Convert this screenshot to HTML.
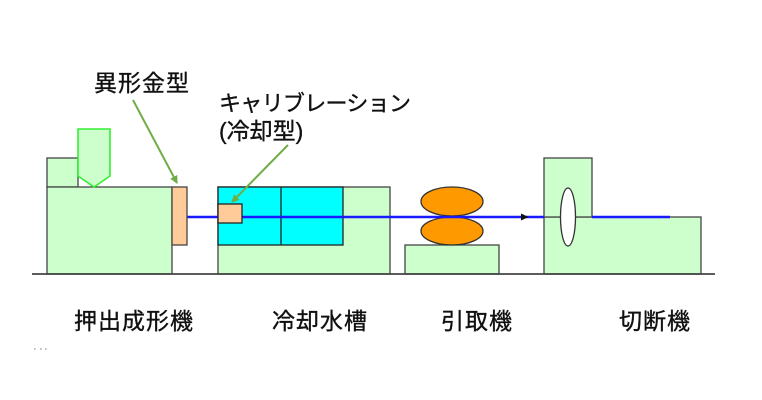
<!DOCTYPE html>
<html><head><meta charset="utf-8"><style>
html,body{margin:0;padding:0;background:#fff;}
svg{display:block;}
text{font-family:"Liberation Sans","Noto Sans CJK JP",sans-serif;fill:#111;stroke:#111;stroke-width:0.35;}
</style></head><body>
<svg width="762" height="400" viewBox="0 0 762 400" xmlns="http://www.w3.org/2000/svg">
<defs>
<marker id="ga" markerWidth="8" markerHeight="8" refX="7" refY="4" orient="auto" markerUnits="userSpaceOnUse">
<path d="M0,0 L8,4 L0,8 Z" fill="#70ad47"/>
</marker>
</defs>
<rect width="762" height="400" fill="#fff"/>
<!-- extruder -->
<rect x="47" y="158" width="31" height="29" fill="#ccffcc" stroke="#444" stroke-width="1.3"/>
<rect x="47" y="187" width="125" height="87" fill="#ccffcc" stroke="#444" stroke-width="1.3"/>
<polygon points="78,129 110,129 110,176 94,187 78,176" fill="#ccffcc" stroke="#33ee33" stroke-width="1.6"/>
<!-- cooling tank -->
<rect x="218" y="187" width="172" height="87" fill="#ccffcc" stroke="#444" stroke-width="1.3"/>
<rect x="218" y="187" width="125" height="58" fill="#00ffff" stroke="#222" stroke-width="1.3"/>
<line x1="281" y1="187" x2="281" y2="245" stroke="#222" stroke-width="1.3"/>
<!-- puller base -->
<rect x="405" y="245" width="94" height="29" fill="#ccffcc" stroke="#444" stroke-width="1.3"/>
<!-- cutter -->
<rect x="544" y="217" width="157" height="57" fill="#ccffcc" stroke="#444" stroke-width="1.3"/>
<rect x="544" y="158" width="48" height="59" fill="#ccffcc" stroke="#444" stroke-width="1.3"/>
<!-- rollers -->
<ellipse cx="452" cy="201.5" rx="31" ry="14.5" fill="#ff9900" stroke="#333" stroke-width="1.3"/>
<ellipse cx="452" cy="231" rx="31" ry="14" fill="#ff9900" stroke="#333" stroke-width="1.3"/>
<!-- blue profile line -->
<line x1="187" y1="217" x2="544" y2="217" stroke="#1a1aff" stroke-width="2.4"/>
<line x1="592" y1="217" x2="670" y2="217" stroke="#1a1aff" stroke-width="2.4"/>
<path d="M521,213.5 L528.5,217 L521,220.5 Z" fill="#111"/>
<!-- die -->
<rect x="172" y="187" width="15" height="58" fill="#ffcc99" stroke="#444" stroke-width="1.3"/>
<rect x="218" y="204" width="24" height="19" fill="#ffcc99" stroke="#222" stroke-width="1.3"/>
<!-- cutter blade -->
<ellipse cx="568" cy="217" rx="7.5" ry="29" fill="#fff" stroke="#333" stroke-width="1.3"/>
<!-- ground -->
<line x1="32" y1="274" x2="715" y2="274" stroke="#444" stroke-width="1.8"/>
<!-- green arrows -->
<line x1="133" y1="100" x2="177" y2="183" stroke="#70ad47" stroke-width="2" marker-end="url(#ga)"/>
<line x1="288" y1="145" x2="232" y2="202" stroke="#70ad47" stroke-width="2" marker-end="url(#ga)"/>
<!-- labels -->
<text x="94" y="91" font-size="23" letter-spacing="1">異形金型</text>
<text x="219" y="111" font-size="22" letter-spacing="-0.7">キャリブレーション</text>
<text x="219" y="139" font-size="23">(冷却型)</text>
<text x="74" y="329" font-size="23" letter-spacing="1">押出成形機</text>
<text x="272" y="329" font-size="23" letter-spacing="1">冷却水槽</text>
<text x="441" y="329" font-size="23" letter-spacing="1">引取機</text>
<text x="619" y="329" font-size="23" letter-spacing="1">切断機</text>
<!-- tiny marks -->
<rect x="34" y="348" width="1.5" height="2" fill="#bbb"/>
<rect x="40" y="348" width="1.5" height="2" fill="#bbb"/>
<rect x="45" y="348" width="1.5" height="2" fill="#bbb"/>
</svg>
</body></html>
